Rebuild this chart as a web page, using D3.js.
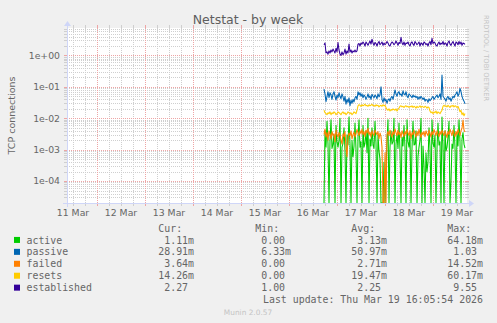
<!DOCTYPE html>
<html><head><meta charset="utf-8">
<script src="https://cdn.jsdelivr.net/npm/d3@7"></script>
<style>body{margin:0;background:#F0F0F0;} svg{display:block;}</style>
</head><body><svg id="c" width="497" height="323"></svg>
<script>
// ---------------- data ----------------
const seriesNames = ["active", "passive", "failed", "resets", "established"];
const seriesColors = ["#00CC00", "#0066B3", "#FF8000", "#FFCC00", "#330099"];

const active = [
  0.0, 0.004, 0.0012, 0.008, 0.0015, 0.0, 0.002, 0.009, 0.0011, 0.0015,
  0.003, 0.0, 0.006, 0.0018, 0.0012, 0.002, 0.01, 0.0, 0.0012, 0.0016,
  0.005, 0.0009, 0.0, 0.003, 0.0014, 0.011, 0.0015, 0.0, 0.002, 0.0006,
  0.0013, 0.007, 0.001, 0.0, 0.0025, 0.009, 0.0012, 0.0018, 0.0, 0.006,
  0.0012, 0.0016, 0.004, 0.0008, 0.01, 0.0, 0.0022, 0.0013, 0.005, 0.0014,
  0.0011, 0.008, 0.0016, 0.0, 0.003, 0.0009, 0.0005, 0.0, 0.0, 0.0,
  0.0004, 0.0, 0.0002, 0.002, 0.009, 0.0, 0.0012, 0.004, 0.0015, 0.0018,
  0.01, 0.0, 0.0015, 0.003, 0.0011, 0.007, 0.0009, 0.0, 0.0025, 0.0013,
  0.006, 0.0012, 0.0, 0.009, 0.0018, 0.0012, 0.003, 0.0, 0.0011, 0.008,
  0.0014, 0.0015, 0.004, 0.0, 0.0006, 0.0012, 0.002, 0.01, 0.0, 0.0013,
  0.0003, 0.0, 0.0008, 0.0002, 0.0004, 0.005, 0.0012, 0.0, 0.009, 0.0016,
  0.0012, 0.003, 0.0, 0.0011, 0.007, 0.0014, 0.0018, 0.0, 0.011, 0.0014,
  0.0, 0.004, 0.0009, 0.0012, 0.0025, 0.008, 0.0, 0.0001, 0.0015, 0.0011,
  0.006, 0.0012, 0.0, 0.0035, 0.0013, 0.009, 0.0018, 0.0, 0.0022, 0.0035,
  0.0015, 0.00111
];
const passive = [
  0.085, 0.06, 0.034, 0.05, 0.07, 0.045, 0.065, 0.055, 0.04, 0.06,
  0.07, 0.05, 0.038, 0.055, 0.045, 0.065, 0.05, 0.042, 0.06, 0.048,
  0.035, 0.05, 0.028, 0.04, 0.032, 0.045, 0.025, 0.038, 0.03, 0.04,
  0.033, 0.045, 0.05, 0.04, 0.07, 0.055, 0.065, 0.05, 0.06, 0.045,
  0.055, 0.05, 0.04, 0.048, 0.06, 0.045, 0.052, 0.04, 0.058, 0.05,
  0.045, 0.055, 0.05, 0.042, 0.06, 0.048, 0.055, 0.1, 0.04, 0.032,
  0.045, 0.035, 0.04, 0.03, 0.038, 0.042, 0.035, 0.045, 0.05, 0.04,
  0.055, 0.08, 0.06, 0.05, 0.065, 0.07, 0.055, 0.06, 0.05, 0.075,
  0.06, 0.055, 0.07, 0.05, 0.045, 0.06, 0.055, 0.05, 0.045, 0.055,
  0.048, 0.052, 0.045, 0.05, 0.04, 0.048, 0.042, 0.05, 0.045, 0.04,
  0.045, 0.035, 0.04, 0.038, 0.032, 0.042, 0.036, 0.04, 0.045, 0.05,
  0.04, 0.045, 0.05, 0.055, 0.045, 0.05, 0.06, 0.04, 0.24, 0.05,
  0.045, 0.04, 0.035, 0.045, 0.05, 0.04, 0.045, 0.035, 0.042, 0.05,
  0.045, 0.055, 0.06, 0.07, 0.05, 0.06, 0.09, 0.07, 0.05, 0.04,
  0.035, 0.02891
];
const failed = [
  0.003, 0.0045, 0.0025, 0.0035, 0.002, 0.004, 0.003, 0.0022, 0.0038, 0.0028,
  0.0032, 0.0018, 0.0042, 0.003, 0.0025, 0.0035, 0.0028, 0.002, 0.0015, 0.0032,
  0.0026, 0.0038, 0.0012, 0.0006, 0.0025, 0.0034, 0.0028, 0.004, 0.0022, 0.003,
  0.0036, 0.0025, 0.0032, 0.0044, 0.0035, 0.0028, 0.004, 0.0032, 0.0045, 0.003,
  0.0038, 0.0026, 0.0042, 0.0034, 0.0048, 0.003, 0.0036, 0.0025, 0.004, 0.0032,
  0.0028, 0.0042, 0.0035, 0.003, 0.0038, 0.0022, 0.0034, 0.0026, 0.0012, 0.0,
  0.0, 0.0008, 0.0, 0.003, 0.0038, 0.0028, 0.0042, 0.0032, 0.0025, 0.0038,
  0.003, 0.0045, 0.0035, 0.0028, 0.0042, 0.003, 0.0036, 0.0024, 0.004, 0.0032,
  0.0026, 0.0038, 0.003, 0.0044, 0.0034, 0.0028, 0.004, 0.0022, 0.0035, 0.003,
  0.0042, 0.0032, 0.0025, 0.0038, 0.0028, 0.0045, 0.0032, 0.0024, 0.0036, 0.003,
  0.0038, 0.0026, 0.004, 0.0032, 0.0028, 0.0042, 0.0034, 0.0025, 0.0038, 0.003,
  0.0044, 0.0035, 0.0028, 0.004, 0.0032, 0.0026, 0.0038, 0.003, 0.0042, 0.0034,
  0.0028, 0.004, 0.0032, 0.0024, 0.0038, 0.003, 0.0045, 0.0035, 0.0028, 0.0042,
  0.0032, 0.0026, 0.0038, 0.003, 0.0044, 0.0035, 0.0028, 0.004, 0.0048, 0.0088,
  0.0042, 0.00364
];
const resets = [
  0.018, 0.015, 0.014, 0.013, 0.015, 0.014, 0.016, 0.013, 0.015, 0.014,
  0.016, 0.015, 0.013, 0.014, 0.016, 0.015, 0.014, 0.013, 0.015, 0.016,
  0.014, 0.015, 0.013, 0.014, 0.016, 0.015, 0.014, 0.015, 0.013, 0.014,
  0.016, 0.015, 0.014, 0.018, 0.025, 0.027, 0.026, 0.024, 0.027, 0.025,
  0.026, 0.028, 0.025, 0.026, 0.024, 0.027, 0.025, 0.026, 0.028, 0.025,
  0.026, 0.024, 0.027, 0.025, 0.026, 0.023, 0.025, 0.026, 0.024, 0.027,
  0.025, 0.026, 0.022, 0.019, 0.018, 0.02, 0.017, 0.019, 0.018, 0.02,
  0.019, 0.018, 0.02, 0.017, 0.019, 0.021, 0.024, 0.025, 0.023, 0.024,
  0.022, 0.024, 0.025, 0.023, 0.024, 0.022, 0.024, 0.023, 0.025, 0.022,
  0.024, 0.023, 0.021, 0.024, 0.022, 0.023, 0.025, 0.022, 0.024, 0.023,
  0.022, 0.024, 0.023, 0.021, 0.023, 0.022, 0.017, 0.015, 0.016, 0.014,
  0.016, 0.015, 0.017, 0.014, 0.016, 0.015, 0.014, 0.016, 0.018, 0.024,
  0.026, 0.024, 0.025, 0.023, 0.026, 0.024, 0.022, 0.025, 0.024, 0.026,
  0.023, 0.025, 0.024, 0.022, 0.024, 0.02, 0.016, 0.018, 0.013, 0.015,
  0.012, 0.01426
];
const established = [
  2.2, 2.5, 1.2, 1.3, 1.1, 1.4, 1.2, 1.5, 1.3, 1.6,
  1.4, 1.2, 1.7, 1.3, 2.6, 1.5, 1.1, 1.0, 1.3, 1.05,
  1.2, 1.6, 1.1, 1.4, 1.2, 2.3, 1.3, 1.5, 1.2, 1.4,
  1.3, 1.5, 1.3, 1.4, 2.3, 2.4, 2.0, 2.5, 2.3, 2.7,
  2.4, 2.0, 2.7, 2.4, 2.1, 2.5, 2.9, 2.3, 3.3, 2.5,
  2.1, 2.6, 2.4, 2.0, 2.5, 2.8, 2.2, 2.4, 2.7, 2.1,
  2.5, 2.2, 2.4, 2.8, 2.5, 2.1, 2.0, 2.4, 2.7, 2.5,
  2.2, 2.4, 2.9, 2.5, 2.1, 2.6, 2.4, 3.8, 2.5, 2.2,
  2.7, 2.1, 2.5, 2.4, 2.7, 2.2, 2.0, 2.5, 2.7, 2.3,
  2.1, 2.8, 2.5, 2.2, 2.4, 2.7, 2.0, 2.5, 2.4, 2.1,
  2.7, 2.5, 2.2, 2.4, 2.0, 2.5, 2.8, 2.2, 3.5, 2.4,
  2.7, 2.5, 2.1, 2.0, 2.4, 2.7, 2.2, 2.5, 2.3, 2.8,
  2.2, 2.5, 2.4, 2.0, 2.6, 2.9, 2.3, 2.1, 2.5, 2.8,
  2.3, 2.0, 2.7, 2.5, 2.2, 2.8, 2.3, 2.7, 2.1, 2.5,
  2.4, 2.27
];
const seriesValues = [active, passive, failed, resets, established];

const curVals = ["1.11m", "28.91m", "3.64m", "14.26m", "2.27"];
const minVals = ["0.00", "6.33m", "0.00", "0.00", "1.00"];
const avgVals = ["3.13m", "50.97m", "2.71m", "19.47m", "2.25"];
const maxVals = ["64.18m", "1.03", "14.52m", "60.17m", "9.55"];
const columnHeaders = ["Cur:", "Min:", "Avg:", "Max:"];
const dayLabels = ["11 Mar", "12 Mar", "13 Mar", "14 Mar", "15 Mar", "16 Mar", "17 Mar", "18 Mar", "19 Mar"];
const yTickValues = [1e-4, 1e-3, 1e-2, 1e-1, 1];
const yTickLabels = ["1e-04", "1e-03", "1e-02", "1e-01", "1e+00"];
const titleText = "Netstat - by week";
const yTitle = "TCP connections";
const lastUpdate = "Last update: Thu Mar 19 16:05:54 2026";
const footer = "Munin 2.0.57";
const sideText = "RRDTOOL / TOBI OETIKER";

// ---------------- layout ----------------
const L = 67, R = 467, T = 28, B = 203;
const svg = d3.select("#c");
const sans = "'DejaVu Sans', sans-serif";
const mono = "'DejaVu Sans Mono', monospace";
const fontCol = "#666666";

const tStart = new Date(Date.UTC(2026, 2, 11, 9, 0));
const tEnd = new Date(Date.UTC(2026, 2, 19, 17, 0));
const x = d3.scaleUtc().domain([tStart, tEnd]).range([L, R]);
const y = d3.scaleLog().domain([2e-5, 7.5]).range([B, T]).clamp(true);
const dataStart = Date.UTC(2026, 2, 16, 17, 30);
const step = 30 * 60 * 1000;

svg.append("rect").attr("width", 497).attr("height", 323).attr("fill", "#F0F0F0");
svg.append("rect").attr("x", L).attr("y", T).attr("width", R - L).attr("height", B - T).attr("fill", "#FFFFFF");

// grid
const gMinor = "#cfcfcf", gMajor = "#eea5a5";
const grid = svg.append("g").attr("shape-rendering", "crispEdges");
const minorTimes = d3.utcHour.every(6).range(tStart, tEnd).filter(d => d.getUTCHours() !== 0);
const majorTimes = d3.utcDay.range(tStart, tEnd);
function vline(t, col) {
  const xx = Math.round(x(t)) + 0.5;
  grid.append("line").attr("x1", xx).attr("x2", xx).attr("y1", T).attr("y2", B)
    .attr("stroke", col).attr("stroke-dasharray", "1,1");
  grid.append("line").attr("x1", xx).attr("x2", xx).attr("y1", T - 3).attr("y2", T + 1).attr("stroke", col);
  grid.append("line").attr("x1", xx).attr("x2", xx).attr("y1", B - 1).attr("y2", B + 3).attr("stroke", col);
}
function hline(v, col) {
  const yy = Math.round(y(v)) + 0.5;
  grid.append("line").attr("x1", L).attr("x2", R).attr("y1", yy).attr("y2", yy)
    .attr("stroke", col).attr("stroke-dasharray", "1,1");
  grid.append("line").attr("x1", L - 3).attr("x2", L + 1).attr("y1", yy).attr("y2", yy).attr("stroke", col);
  grid.append("line").attr("x1", R - 1).attr("x2", R + 2).attr("y1", yy).attr("y2", yy).attr("stroke", col);
}
minorTimes.forEach(t => vline(t, gMinor));
const [y0, y1] = y.domain();
for (let n = -5; n <= 0; n++) {
  for (let k = 2; k <= 9; k++) {
    const v = k * Math.pow(10, n);
    if (v > y0 && v < y1) hline(v, gMinor);
  }
}
majorTimes.forEach(t => vline(t, gMajor));
yTickValues.forEach(v => hline(v, gMajor));

// data lines
const clip = svg.append("clipPath").attr("id", "pc");
clip.append("rect").attr("x", L).attr("y", T - 1).attr("width", R - L + 1).attr("height", B - T + 1);
const line = d3.line()
  .x((d, i) => x(new Date(dataStart + i * step)))
  .y(d => y(Math.max(d, 1e-12)));
const plot = svg.append("g").attr("clip-path", "url(#pc)");
seriesValues.forEach((vals, si) => {
  plot.append("path").attr("d", line(vals)).attr("fill", "none")
    .attr("stroke", seriesColors[si]).attr("stroke-width", 1.05).attr("stroke-linejoin", "round");
});

// axes
const axCol = "#CFD6F8";
svg.append("line").attr("x1", L - 4).attr("x2", R + 4).attr("y1", B + 0.5).attr("y2", B + 0.5).attr("stroke", axCol);
svg.append("line").attr("x1", L + 0.5).attr("x2", L + 0.5).attr("y1", B + 4).attr("y2", T - 4).attr("stroke", axCol);
svg.append("path").attr("d", `M${R + 2},${B - 3} L${R + 2},${B + 4} L${R + 7},${B + 0.5} Z`).attr("fill", axCol);
svg.append("path").attr("d", `M${L - 3},${T - 2} L${L + 4},${T - 2} L${L + 0.5},${T - 7} Z`).attr("fill", axCol);

// tick labels
const xl = svg.append("g").attr("font-family", sans).attr("font-size", 9.3).attr("fill", fontCol).attr("text-anchor", "middle");
const noonTimes = d3.utcDay.range(d3.utcDay.floor(tStart), tEnd).map(d => new Date(+d + 12 * 3600 * 1000));
noonTimes.forEach((t, i) => {
  xl.append("text").attr("x", x(t)).attr("y", 216).text(dayLabels[i]);
});
const yl = svg.append("g").attr("font-family", sans).attr("font-size", 9.3).attr("fill", fontCol).attr("text-anchor", "end");
yTickValues.forEach((v, i) => {
  yl.append("text").attr("x", 60).attr("y", y(v) + 3.4).text(yTickLabels[i]);
});

// titles
svg.append("text").attr("x", 248).attr("y", 23.5).attr("text-anchor", "middle")
  .attr("font-family", sans).attr("font-size", 12.5).attr("fill", "#5e5e5e").text(titleText);
svg.append("text").attr("transform", `translate(15,${(T + B) / 2}) rotate(-90)`).attr("text-anchor", "middle")
  .attr("font-family", sans).attr("font-size", 9.5).attr("fill", fontCol).text(yTitle);
svg.append("text").attr("transform", "translate(484,15) rotate(90)").attr("text-anchor", "start")
  .attr("font-family", sans).attr("font-size", 6.7).attr("fill", "#c4c4c4").text(sideText);

// legend
const cw = 5.96;
const leg = svg.append("g").attr("font-family", mono).attr("font-size", 9.9).attr("fill", fontCol);
const colEnds = [194, 291, 387, 483];
const rowY0 = 228, rowStep = 11.93;
columnHeaders.forEach((h, i) => {
  leg.append("text").attr("x", colEnds[i] - 2 * cw).attr("y", rowY0 + 3.6).attr("text-anchor", "end").text(h);
});
const cols = [curVals, minVals, avgVals, maxVals];
seriesNames.forEach((name, si) => {
  const cy = rowY0 + (si + 1) * rowStep;
  svg.append("rect").attr("x", 14).attr("y", cy - 3).attr("width", 6).attr("height", 6).attr("fill", seriesColors[si]);
  leg.append("text").attr("x", 26.5).attr("y", cy + 3.6).text(name);
  cols.forEach((col, ci) => {
    const s = col[si];
    const hasSuffix = /[a-zA-Z]$/.test(s);
    leg.append("text").attr("x", colEnds[ci] - (hasSuffix ? 0 : cw)).attr("y", cy + 3.6)
      .attr("text-anchor", "end").text(s);
  });
});
leg.append("text").attr("x", 483).attr("y", rowY0 + 6 * rowStep + 3.6).attr("text-anchor", "end").text(lastUpdate);
svg.append("text").attr("x", 248).attr("y", 314.5).attr("text-anchor", "middle")
  .attr("font-family", sans).attr("font-size", 7.4).attr("fill", "#c4c4c4").text(footer);
</script></body></html>
